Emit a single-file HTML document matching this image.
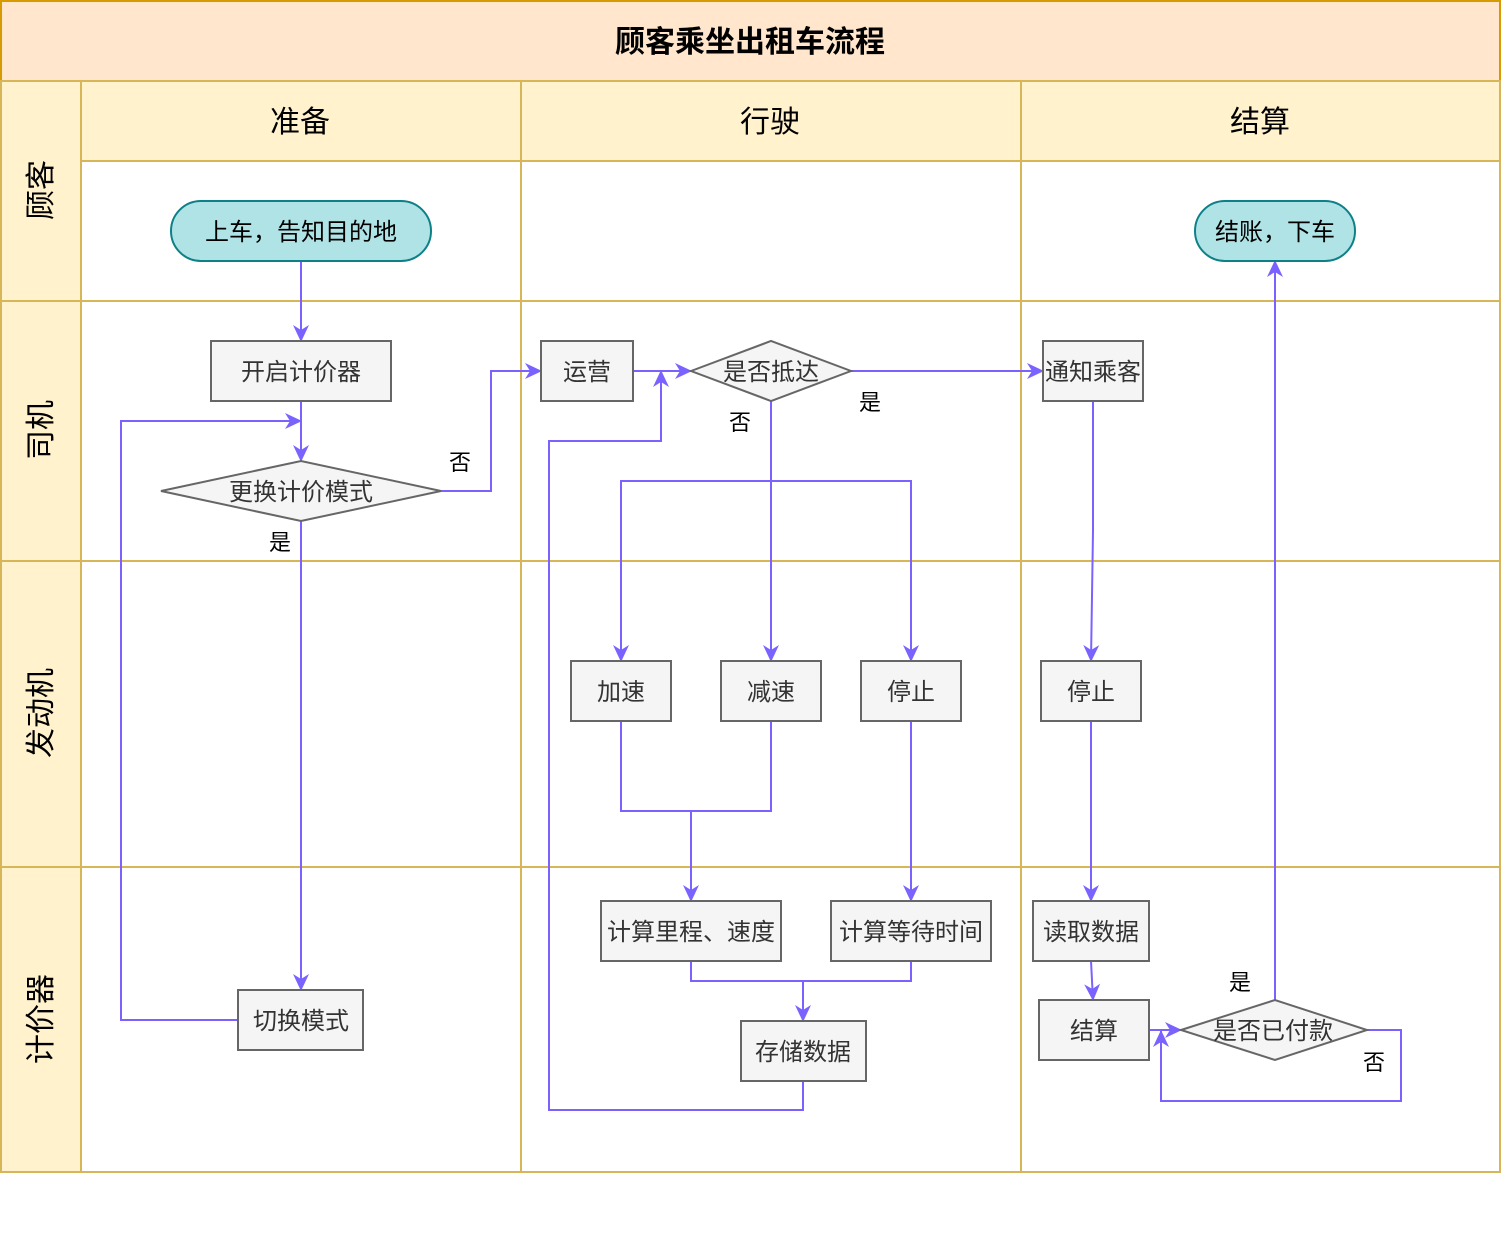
<!DOCTYPE html>
<html><head><meta charset="utf-8"><style>
body{margin:0;background:#fff}
svg text{font-family:"Liberation Sans","Noto Sans CJK SC",sans-serif}
</style></head><body>
<svg width="1504" height="1254" viewBox="0 0 1504 1254" xmlns="http://www.w3.org/2000/svg">
<defs>
<marker id="a" markerWidth="18" markerHeight="18" refX="16" refY="9" orient="auto" markerUnits="userSpaceOnUse">
<path d="M0,1 L17,9 L0,17 L5,9 Z" fill="#7a62ff"/>
</marker>
</defs>
<rect x="1" y="1" width="1499" height="80" fill="#ffe6cc" stroke="#d79b00" stroke-width="2"/>
<text x="750" y="52" font-size="30" font-weight="bold" text-anchor="middle" fill="#000">顾客乘坐出租车流程</text>
<g stroke="#d6b656" stroke-width="2">
<rect x="1" y="81" width="80" height="1091" fill="#fff2cc"/>
<rect x="81" y="81" width="1419" height="80" fill="#fff2cc"/>
<rect x="81" y="161" width="1419" height="1011" fill="#fff"/>
<line x1="1" y1="301" x2="1500" y2="301"/>
<line x1="1" y1="561" x2="1500" y2="561"/>
<line x1="1" y1="867" x2="1500" y2="867"/>
<line x1="521" y1="81" x2="521" y2="1172"/>
<line x1="1021" y1="81" x2="1021" y2="1172"/>
</g>
<g font-size="30" text-anchor="middle" fill="#000">
<text x="300" y="132">准备</text>
<text x="770" y="132">行驶</text>
<text x="1260" y="132">结算</text>
<text transform="translate(51,190) rotate(-90)">顾客</text>
<text transform="translate(51,430) rotate(-90)">司机</text>
<text transform="translate(51,713) rotate(-90)">发动机</text>
<text transform="translate(51,1019) rotate(-90)">计价器</text>
</g>
<g fill="none" stroke="#7a62ff" stroke-width="2">
<path d="M301,261 V341" marker-end="url(#a)"/>
<path d="M301,401 V461" marker-end="url(#a)"/>
<path d="M238,1020 H121 V421 H301" marker-end="url(#a)"/>
<path d="M301,521 V990" marker-end="url(#a)"/>
<path d="M441,491 H491 V371 H541" marker-end="url(#a)"/>
<path d="M633,371 H691" marker-end="url(#a)"/>
<path d="M803,1081 V1110 H549 V441 H661 V371" marker-end="url(#a)"/>
<path d="M851,371 H1043" marker-end="url(#a)"/>
<path d="M771,401 V661" marker-end="url(#a)"/>
<path d="M771,481 H621 V661" marker-end="url(#a)"/>
<path d="M771,481 H911 V661" marker-end="url(#a)"/>
<path d="M621,721 V811 H771 V721"/>
<path d="M691,811 V901" marker-end="url(#a)"/>
<path d="M911,721 V901" marker-end="url(#a)"/>
<path d="M691,961 V981 H911 V961"/>
<path d="M803,981 V1021" marker-end="url(#a)"/>
<path d="M1093,401 V531 L1091,661" marker-end="url(#a)"/>
<path d="M1091,721 V901" marker-end="url(#a)"/>
<path d="M1091,961 L1093,1000" marker-end="url(#a)"/>
<path d="M1149,1030 H1181" marker-end="url(#a)"/>
<path d="M1367,1030 H1401 V1101 H1161 V1031" marker-end="url(#a)"/>
<path d="M1275,1000 V261" marker-end="url(#a)"/>
</g>
<g stroke-width="2">
<rect x="171" y="201" width="260" height="60" rx="30" fill="#b0e3e6" stroke="#0e8088"/>
<rect x="1195" y="201" width="160" height="60" rx="30" fill="#b0e3e6" stroke="#0e8088"/>
<g fill="#f5f5f5" stroke="#666">
<rect x="211" y="341" width="180" height="60"/>
<path d="M161,491 L301,461 L441,491 L301,521 Z"/>
<rect x="541" y="341" width="92" height="60"/>
<path d="M691,371 L771,341 L851,371 L771,401 Z"/>
<rect x="1043" y="341" width="100" height="60"/>
<rect x="571" y="661" width="100" height="60"/>
<rect x="721" y="661" width="100" height="60"/>
<rect x="861" y="661" width="100" height="60"/>
<rect x="1041" y="661" width="100" height="60"/>
<rect x="601" y="901" width="180" height="60"/>
<rect x="831" y="901" width="160" height="60"/>
<rect x="1033" y="901" width="116" height="60"/>
<rect x="1039" y="1000" width="110" height="60"/>
<rect x="741" y="1021" width="125" height="60"/>
<rect x="238" y="990" width="125" height="60"/>
<path d="M1181,1030 L1275,1000 L1367,1030 L1275,1060 Z"/>
</g>
</g>
<g font-size="24" text-anchor="middle" fill="#333">
<text x="301" y="240" fill="#000">上车，告知目的地</text>
<text x="1275" y="240" fill="#000">结账，下车</text>
<text x="301" y="380">开启计价器</text>
<text x="301" y="500">更换计价模式</text>
<text x="587" y="380">运营</text>
<text x="771" y="380">是否抵达</text>
<text x="1093" y="380">通知乘客</text>
<text x="621" y="700">加速</text>
<text x="771" y="700">减速</text>
<text x="911" y="700">停止</text>
<text x="1091" y="700">停止</text>
<text x="691" y="940">计算里程、速度</text>
<text x="911" y="940">计算等待时间</text>
<text x="1091" y="940">读取数据</text>
<text x="1094" y="1039">结算</text>
<text x="803" y="1060">存储数据</text>
<text x="301" y="1029">切换模式</text>
<text x="1273" y="1039">是否已付款</text>
</g>
<g font-size="22" text-anchor="middle" fill="#000">
<text x="460" y="470">否</text>
<text x="280" y="550">是</text>
<text x="870" y="410">是</text>
<text x="740" y="430">否</text>
<text x="1240" y="990">是</text>
<text x="1374" y="1070">否</text>
</g>
</svg>
</body></html>
